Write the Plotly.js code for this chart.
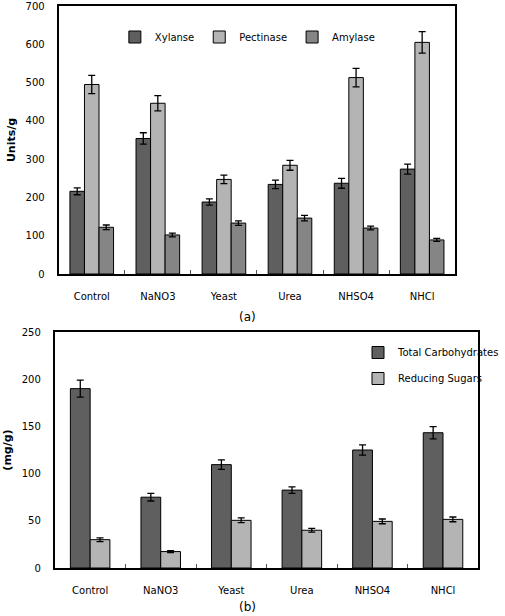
<!DOCTYPE html>
<html><head><meta charset="utf-8">
<script src="https://cdn.plot.ly/plotly-3.0.1.min.js"></script>
<style>body{margin:0;padding:0;background:#fff}#chart{width:505px;height:616px}</style>
</head><body><div id="chart"></div>
<script>
const categories = ["Control", "NaNO3", "Yeast", "Urea", "NHSO4", "NHCl"];
// Panel (a) enzyme activities, Units/g
const xylanse = [216, 354, 188, 234, 237, 274];
const xylanseErr = [9, 15, 8, 11, 13, 13];
const pectinase = [495, 446, 247, 284, 513, 605];
const pectinaseErr = [24, 20, 11, 13, 24, 28];
const amylase = [122, 102, 133, 146, 120, 89];
const amylaseErr = [6, 5, 6, 7, 5, 4];
// Panel (b) carbohydrates, mg/g
const totalCarb = [190, 75, 109.5, 82.5, 125, 143.3];
const totalCarbErr = [9, 4, 5, 3.5, 5.5, 6.5];
const reducingSugars = [30, 17.4, 50.5, 40, 49.4, 51.5];
const reducingSugarsErr = [2, 1, 2.5, 2, 2.5, 2.5];

const dark = '#5f5f5f', light = '#b4b4b4', mid = '#858585';
function bar(name, y, err, color, xa, ya, w, off, legend) {
  return {
    type: 'bar', name: name, x: categories, y: y, xaxis: xa, yaxis: ya,
    width: w, offset: off, legend: legend, legendgroup: name,
    marker: {color: color, line: {color: '#000', width: 1}},
    error_y: {type: 'data', array: err, visible: true, color: '#000', thickness: 1.3, width: 3.5}
  };
}
const wA = 0.22, wB = 0.28;
const data = [
  bar('Xylanse', xylanse, xylanseErr, dark, 'x', 'y', wA, -1.5 * wA, 'legend'),
  bar('Pectinase', pectinase, pectinaseErr, light, 'x', 'y', wA, -0.5 * wA, 'legend'),
  bar('Amylase', amylase, amylaseErr, mid, 'x', 'y', wA, 0.5 * wA, 'legend'),
  bar('Total Carbohydrates', totalCarb, totalCarbErr, dark, 'x2', 'y2', wB, -wB, 'legend2'),
  bar('Reducing Sugars', reducingSugars, reducingSugarsErr, light, 'x2', 'y2', wB, 0, 'legend2')
];
const font = {family: 'DejaVu Sans, Verdana, sans-serif', size: 10, color: '#000'};
const xax = (dom, anchor) => ({
  domain: dom, anchor: anchor, type: 'category', showline: true, mirror: true,
  linecolor: '#000', linewidth: 2, ticks: 'inside', tickson: 'boundaries', ticklen: 4,
  tickcolor: '#555', tickwidth: 1, showgrid: false, zeroline: false,
  ticklabelstandoff: 12, tickfont: font, fixedrange: true
});
const yax = (dom, anchor, range, dtick, title) => ({
  domain: dom, anchor: anchor, range: range, dtick: dtick, showline: true, mirror: true,
  linecolor: '#000', linewidth: 2, ticks: '', showgrid: false, zeroline: false,
  ticklabelstandoff: 10, tickfont: font, fixedrange: true,
  title: {text: title, font: {family: font.family, size: 11, color: '#000', weight: 'bold'}, standoff: 8}
});
const layout = {
  width: 505, height: 616, autosize: false,
  margin: {l: 0, r: 0, t: 0, b: 0},
  paper_bgcolor: '#fff', plot_bgcolor: '#fff',
  font: font, barmode: 'group', showlegend: true,
  xaxis: xax([61 / 505, 473 / 505], 'y'),
  yaxis: yax([1 - 274 / 616, 1 - 6 / 616], 'x', [0, 700], 100, 'Units/g'),
  xaxis2: xax([57 / 505, 497 / 505], 'y2'),
  yaxis2: yax([1 - 568 / 616, 1 - 332 / 616], 'x2', [0, 250], 50, '(mg/g)'),
  legend: {orientation: 'h', x: 0.51, xanchor: 'center', y: 1 - 37 / 616, yanchor: 'middle',
           font: font, bgcolor: 'rgba(0,0,0,0)', itemclick: false},
  legend2: {orientation: 'v', x: 372 / 505, xanchor: 'left', y: 1 - 338 / 616, yanchor: 'top',
            font: font, bgcolor: 'rgba(0,0,0,0)', tracegroupgap: 7, itemclick: false},
  annotations: [
    {text: '(a)', x: 257 / 505, y: 1 - 317 / 616, xref: 'paper', yref: 'paper', showarrow: false,
     font: {family: font.family, size: 12, color: '#000'}, xanchor: 'center', yanchor: 'middle'},
    {text: '(b)', x: 257 / 505, y: 1 - 607 / 616, xref: 'paper', yref: 'paper', showarrow: false,
     font: {family: font.family, size: 12, color: '#000'}, xanchor: 'center', yanchor: 'middle'}
  ]
};
Plotly.newPlot('chart', data, layout, {displayModeBar: false, staticPlot: true});
</script></body></html>
